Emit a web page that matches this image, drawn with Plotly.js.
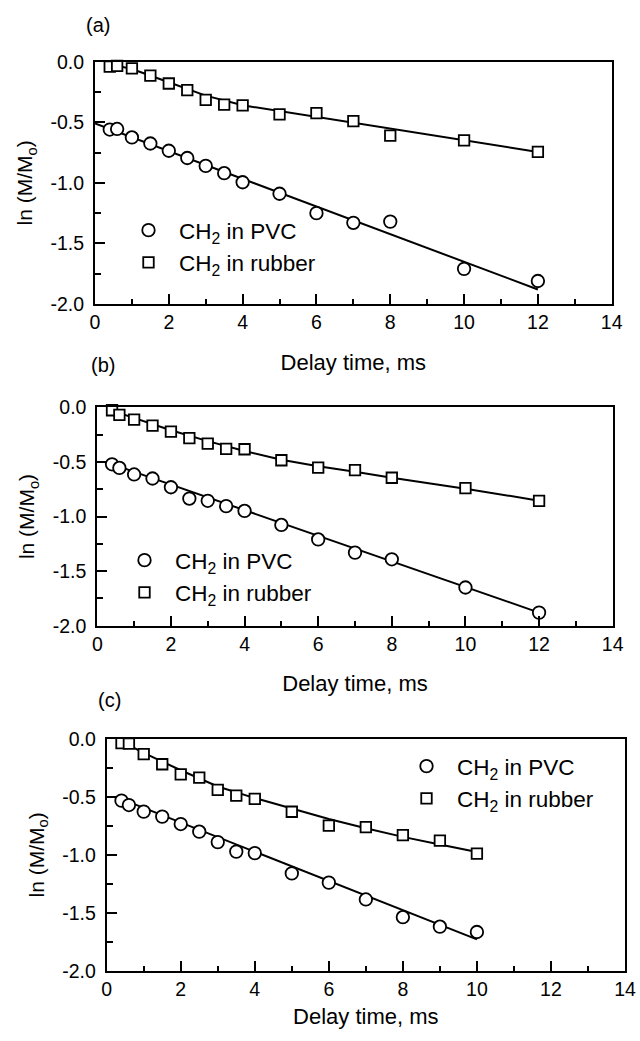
<!DOCTYPE html>
<html>
<head>
<meta charset="utf-8">
<script src="https://cdn.plot.ly/plotly-3.0.1.min.js"></script>
<style>html,body{margin:0;padding:0;background:#fff;}#chart{width:640px;height:1041px;}</style>
</head>
<body>
<div id="chart"></div>
<script>
// ---- data ----
var delayAB = [0.4, 0.6, 1, 1.5, 2, 2.5, 3, 3.5, 4, 5, 6, 7, 8, 10, 12];
var delayC  = [0.4, 0.6, 1, 1.5, 2, 2.5, 3, 3.5, 4, 5, 6, 7, 8, 9, 10];

var pvcA = [-0.56, -0.555, -0.625, -0.675, -0.735, -0.795, -0.86, -0.92, -0.995, -1.09, -1.25, -1.33, -1.32, -1.71, -1.81];
var rubA = [-0.04, -0.035, -0.055, -0.115, -0.18, -0.234, -0.315, -0.355, -0.36, -0.435, -0.425, -0.49, -0.61, -0.65, -0.745];
var pvcFitAx = [0, 12];
var pvcFitAy = [-0.51, -1.88];
var rubFitAx = [0.4, 1, 2, 3, 4, 12];
var rubFitAy = [-0.02, -0.06, -0.17, -0.28, -0.36, -0.745];

var pvcB = [-0.522, -0.555, -0.615, -0.652, -0.732, -0.836, -0.856, -0.905, -0.949, -1.077, -1.21, -1.331, -1.392, -1.65, -1.88];
var rubB = [-0.027, -0.07, -0.112, -0.168, -0.222, -0.283, -0.332, -0.381, -0.384, -0.485, -0.552, -0.576, -0.645, -0.74, -0.857];
var pvcFitBx = [0.4, 12];
var pvcFitBy = [-0.52, -1.88];
var rubFitBx = [0.4, 1, 2, 3, 4, 5, 6, 7, 8, 10, 12];
var rubFitBy = [-0.03, -0.10, -0.21, -0.31, -0.40, -0.48, -0.54, -0.59, -0.645, -0.745, -0.855];

var pvcC = [-0.532, -0.57, -0.627, -0.67, -0.734, -0.80, -0.89, -0.972, -0.985, -1.16, -1.24, -1.385, -1.538, -1.62, -1.666];
var rubC = [-0.035, -0.04, -0.13, -0.218, -0.305, -0.333, -0.44, -0.489, -0.516, -0.628, -0.747, -0.76, -0.83, -0.878, -0.99];
var pvcFitCx = [0.25, 10];
var pvcFitCy = [-0.50, -1.73];
var rubFitCx = [0.4, 1, 2, 3, 4, 5, 6, 7, 8, 9, 10];
var rubFitCy = [-0.02, -0.12, -0.27, -0.41, -0.51, -0.60, -0.69, -0.77, -0.845, -0.91, -0.975];

var yTickVals = [0, -0.5, -1, -1.5, -2];
var yTickText = ['0.0', '-0.5', '-1.0', '-1.5', '-2.0'];
var xTickVals = [0, 2, 4, 6, 8, 10, 12, 14];
var xTickText = ['0', '2', '4', '6', '8', '10', '12', '14'];

var pvcName = 'CH<sub>2</sub> in PVC';
var rubName = 'CH<sub>2</sub> in rubber';
var panelLabels = ['(a)', '(b)', '(c)'];

// ---- layout helpers ----
var W = 640, H = 1041;
var FONT = 'Liberation Sans, Arial, sans-serif';
function px(x) { return x / W; }
function py(y) { return 1 - y / H; }

var panels = [
  {l: 95, r: 611.7, t: 61.7, b: 304, xs: 22, lx: 118, ly: 209, lab: [98, 25]},
  {l: 97.3, r: 612.7, t: 407.3, b: 625.7, xs: 22, lx: 114, ly: 539, lab: [103, 365]},
  {l: 106.7, r: 625, t: 739, b: 970.7, xs: 10, lx: 396, ly: 745, lab: [109, 700]}
];

var circleMarkerFill = {symbol: 'circle', size: 12.5, color: '#fff', line: {width: 1.8, color: '#000'}};
var squareMarkerFill = {symbol: 'square', size: 10.5, color: '#fff', line: {width: 1.8, color: '#000'}};

function fitTrace(x, y, i) {
  var s = i === 0 ? '' : String(i + 1);
  return {x: x, y: y, xaxis: 'x' + s, yaxis: 'y' + s, mode: 'lines', showlegend: false,
          line: {color: '#000', width: 2}, hoverinfo: 'skip'};
}
function ptTrace(x, y, i, name, marker, grp) {
  var s = i === 0 ? '' : String(i + 1);
  return {x: x, y: y, xaxis: 'x' + s, yaxis: 'y' + s, mode: 'markers', name: name,
          marker: marker, cliponaxis: false, legend: 'legend' + s, legendgroup: grp + s};
}

var data = [
  fitTrace(pvcFitAx, pvcFitAy, 0), fitTrace(rubFitAx, rubFitAy, 0),
  ptTrace(delayAB, pvcA, 0, pvcName, circleMarkerFill, 'p'), ptTrace(delayAB, rubA, 0, rubName, squareMarkerFill, 'r'),
  fitTrace(pvcFitBx, pvcFitBy, 1), fitTrace(rubFitBx, rubFitBy, 1),
  ptTrace(delayAB, pvcB, 1, pvcName, circleMarkerFill, 'p'), ptTrace(delayAB, rubB, 1, rubName, squareMarkerFill, 'r'),
  fitTrace(pvcFitCx, pvcFitCy, 2), fitTrace(rubFitCx, rubFitCy, 2),
  ptTrace(delayC, pvcC, 2, pvcName, circleMarkerFill, 'p'), ptTrace(delayC, rubC, 2, rubName, squareMarkerFill, 'r')
];

var layout = {
  width: W, height: H,
  margin: {l: 0, r: 0, t: 0, b: 0},
  paper_bgcolor: '#fff', plot_bgcolor: '#fff',
  font: {family: FONT, size: 19, color: '#000'},
  annotations: []
};

panels.forEach(function (p, i) {
  var s = i === 0 ? '' : String(i + 1);
  layout['xaxis' + s] = {
    domain: [px(p.l), px(p.r)], anchor: 'y' + s, range: [0, 14],
    tickmode: 'array', tickvals: xTickVals, ticktext: xTickText,
    ticks: 'inside', ticklen: 10, tickwidth: 2, tickcolor: '#000',
    minor: {tickmode: 'linear', tick0: 0, dtick: 1, ticks: 'inside', ticklen: 5, tickwidth: 2, tickcolor: '#000'},
    showline: true, linewidth: 2, linecolor: '#000', mirror: true,
    showgrid: false, zeroline: false, fixedrange: true,
    tickfont: {family: FONT, size: 19.5, color: '#000'},
    title: {text: 'Delay time, ms', font: {family: FONT, size: 22, color: '#000'}, standoff: p.xs}
  };
  layout['yaxis' + s] = {
    domain: [py(p.b), py(p.t)], anchor: 'x' + s, range: [-2, 0],
    tickmode: 'array', tickvals: yTickVals, ticktext: yTickText,
    ticks: 'inside', ticklen: 10, tickwidth: 2, tickcolor: '#000',
    minor: {tickmode: 'linear', tick0: 0, dtick: 0.25, ticks: 'inside', ticklen: 6, tickwidth: 2, tickcolor: '#000'},
    showline: true, linewidth: 2, linecolor: '#000', mirror: true,
    showgrid: false, zeroline: false, fixedrange: true,
    ticklabelstandoff: 5,
    tickfont: {family: FONT, size: 19.5, color: '#000'},
    title: {text: 'ln (M/M<sub>o</sub>)', font: {family: FONT, size: 21, color: '#000'}, standoff: 12}
  };
  layout['legend' + s] = {
    x: px(p.lx), y: py(p.ly), xanchor: 'left', yanchor: 'top',
    xref: 'paper', yref: 'paper',
    bgcolor: 'rgba(0,0,0,0)', borderwidth: 0,
    font: {family: FONT, size: 22.5, color: '#000'},
    tracegroupgap: 0, itemwidth: 51
  };
  layout.annotations.push({
    text: panelLabels[i], xref: 'paper', yref: 'paper', showarrow: false,
    x: px(p.lab[0]), y: py(p.lab[1]), xanchor: 'center', yanchor: 'middle',
    font: {family: FONT, size: 20, color: '#000'}
  });
});

Plotly.newPlot('chart', data, layout, {displayModeBar: false, staticPlot: true});
</script>
</body>
</html>
